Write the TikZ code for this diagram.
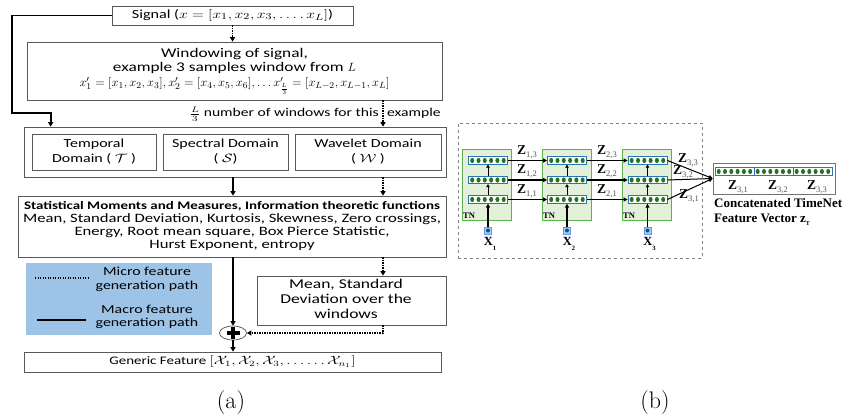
\documentclass[tikz,border=0pt]{standalone}
\usepackage[no-math]{fontspec}
\newfontfamily\calib{Carlito}
\newfontfamily\tnr{Liberation Serif}
\usepackage{graphicx}
\usetikzlibrary{arrows.meta,shapes.geometric,calc}
\definecolor{legblue}{RGB}{157,195,230}
\definecolor{tngreen}{RGB}{226,240,217}
\definecolor{tnborder}{RGB}{90,180,75}
\definecolor{barblue}{RGB}{46,117,182}
\definecolor{dotgreen}{RGB}{35,115,35}
\definecolor{inblue}{RGB}{150,210,240}
\definecolor{indot}{RGB}{31,78,121}
\definecolor{zsub}{RGB}{80,80,80}
\newcommand{\sx}[1]{\scalebox{1.3}[1]{#1}}
\newcommand{\um}[1]{\scalebox{0.8}[1]{#1}}
\newcommand{\fs}[2]{\fontsize{#1}{#2}\selectfont}
\newcommand{\ml}[3]{\sx{\fs{#1}{#2}\calib\begin{tabular}{@{}c@{}}#3\end{tabular}}}
\newcommand{\zlab}[1]{{\tnr\bfseries\fs{13.5}{13.5}Z}\raisebox{-3pt}{\tnr\fs{8.5}{8.5}\color{zsub}#1}}
\newcommand{\xlab}[1]{{\tnr\bfseries\fs{12.5}{12.5}X}\raisebox{-5pt}{\tnr\bfseries\fs{6.5}{6.5}#1}}
\tikzset{
  pics/dotbar/.style={code={
    \node[draw=barblue, fill=white, line width=0.8pt, minimum width=39pt, minimum height=7.5pt, inner sep=0pt] (-box) at (0,0) {};
    \foreach \i in {0,...,5} \fill[dotgreen] (-15.8+\i*6.3,0) ellipse (2pt and 2.6pt);
  }}
}
\begin{document}
\begin{tikzpicture}[x=1pt,y=-1pt,
  abox/.style={draw=black!65, line width=0.7pt, inner sep=0pt, align=center},
  arr/.style={-{Triangle[length=4.5pt,width=5pt]}, line width=1.5pt},
  darr/.style={-{Triangle[length=4.5pt,width=5pt]}, line width=1.7pt, dash pattern=on 1.4pt off 1.1pt},
  tnbox/.style={draw=tnborder, fill=tngreen, line width=1pt, minimum width=49pt, minimum height=70pt, inner sep=0pt},
  insq/.style={draw=inblue!70!blue, fill=inblue, line width=0.5pt, minimum width=7pt, minimum height=7pt, inner sep=0pt},
  tarr/.style={-{Triangle[length=3pt,width=3.5pt]}, line width=1pt},
  harr/.style={-{Triangle[length=4pt,width=4pt]}, line width=1.3pt},
  lab/.style={inner sep=0pt}
]
\useasboundingbox (0,0) rectangle (842,414);
% ---------------- (a) ----------------
\coordinate (cx) at (383,0);
\node[abox, minimum width=241pt, minimum height=19pt] (sig) at (232.5,15.5)
  {\ml{12.4}{13}{Signal ($x = [x_1, x_2, x_3, \ldots.\, x_L]$)}};
\node[abox, minimum width=415pt, minimum height=58pt] (win) at (234.5,71)
  {\ml{13.3}{14.5}{Windowing of signal,\\[-1pt]example 3 samples window from {\fs{12.5}{14.5}\um{$L$}}\\[1pt]{\fs{12.5}{14.5}\um{$x_1' = [x_1, x_2, x_3], x_2' = [x_4, x_5, x_6], \ldots x'_{\frac{L}{3}} = [x_{L-2}, x_{L-1}, x_L]$}}}};
\node[lab, anchor=base east] (lab1) at (379,117) {\sx{\fs{12}{14}\calib$\frac{L}{3}$ number of windows for this}};
\node[lab, anchor=base west] (lab2) at (387,117) {\sx{\fs{12}{14}\calib example}};
\node[abox, minimum width=422pt, minimum height=50pt] (outer) at (235,152) {};
\node[abox, minimum width=124pt, minimum height=36pt] (temp) at (94,152)
  {\ml{12.3}{15}{Temporal\\Domain ( $\mathcal{T}$ )}};
\node[abox, minimum width=125pt, minimum height=36pt] (spec) at (225.5,152)
  {\ml{12.3}{15}{Spectral Domain\\( $\mathcal{S}$)}};
\node[abox, minimum width=146pt, minimum height=36pt] (wav) at (368,152)
  {\ml{12.3}{15}{Wavelet Domain\\( $\mathcal{W}$ )}};
\node[abox, minimum width=428pt, minimum height=61pt] (stat) at (232,226.5)
  {\ml{12.8}{13}{{\fs{11.5}{13}\bfseries Statistical Moments and Measures, Information theoretic functions}\\Mean, Standard Deviation, Kurtosis, Skewness, Zero crossings,\\Energy, Root mean square, Box Pierce Statistic,\\Hurst Exponent, entropy}};
\node[fill=legblue, minimum width=186pt, minimum height=72pt, inner sep=0pt] (leg) at (119,299) {};
\node[lab] (legt1) at (147,280) {\ml{12.2}{14}{Micro feature\\generation path}};
\node[lab] (legt2) at (147,317.5) {\ml{12.2}{13.5}{Macro feature\\generation path}};
\coordinate (lm1) at (35,278); \coordinate (lm2) at (88,278);
\coordinate (lM1) at (37,320); \coordinate (lM2) at (86,320);
\draw[line width=1.7pt, dash pattern=on 1.4pt off 1.1pt] (lm1) -- (lm2);
\draw[line width=1.5pt] (lM1) -- (lM2);
\node[abox, minimum width=189pt, minimum height=49pt] (msd) at (351.5,300.5) {};
\node[lab] (msdt) at (346,300.5) {\ml{13.5}{15}{Mean, Standard\\Deviation over the\\windows}};
\node[draw=black!70, line width=0.7pt, ellipse, minimum width=27pt, minimum height=14pt, inner sep=0pt] (plus) at (233,333) {};
\draw[line width=3.8pt] ($(plus.center)+(-6.5,0)$) -- ($(plus.center)+(6.5,0)$);
\draw[line width=3.8pt] ($(plus.center)+(0,-6)$) -- ($(plus.center)+(0,6)$);
\node[abox, minimum width=417pt, minimum height=20pt] (gen) at (232.5,362)
  {\ml{11.5}{13}{Generic Feature $[\mathcal{X}_1, \mathcal{X}_2, \mathcal{X}_3, \ldots\ldots\mathcal{X}_{n_1}]$}};
\node[lab] (capa) at (231,403) {\fs{24}{26}(a)};
% connectors (a)
\draw[arr, line width=1.8pt] (sig.west) -| (12,113) -| ($(outer.north west)+(27,0)$);
\draw[darr] (sig.south) -- (sig.south |- win.north);
\draw[darr] (win.south -| cx) -- (outer.north -| cx);
\draw[arr] (outer.south -| plus) -- (stat.north -| plus);
\draw[darr] (outer.south -| cx) -- (stat.north -| cx);
\draw[arr] (stat.south -| plus) -- (plus.north);
\draw[darr] (stat.south -| cx) -- (msd.north -| cx);
\draw[darr] (msd.south -| cx) |- (plus.east);
\draw[arr] (plus.south) -- (gen.north -| plus);
% ---------------- (b) ----------------
\node[draw=gray, dashed, line width=0.7pt, minimum width=244pt, minimum height=135pt, inner sep=0pt] (frameb) at (580,190.5) {};
\node[tnbox] (tn1) at (486.5,185) {};
\node[tnbox] (tn2) at (566.5,185) {};
\node[tnbox] (tn3) at (647,185) {};
\foreach \n/\x in {1/488,2/567,3/647.5}{
  \pic (b\n3) at (\x,160.5) {dotbar};
  \pic (b\n2) at (\x,180) {dotbar};
  \pic (b\n1) at (\x,199.5) {dotbar};
  \draw[tarr] (b\n1-box.north) -- (b\n2-box.south);
  \draw[tarr] (b\n2-box.north) -- (b\n3-box.south);
  \node[insq] (in\n) at (\x,230.5) {};
  \fill[indot] (in\n.center) circle (2pt);
  \draw[harr] (in\n.north) -- (b\n1-box.south);
  \node[lab, anchor=base] (xl\n) at ($(\x,245)+(2,0)$) {\xlab{\n}};
}
\node[lab, anchor=base west] (tnl1) at (463,218) {\tnr\bfseries\fs{8.5}{8.5}TN};
\node[lab, anchor=base west] (tnl2) at (543,218) {\tnr\bfseries\fs{8.5}{8.5}TN};
\node[lab, anchor=base west] (tnl3) at (623,218) {\tnr\bfseries\fs{8.5}{8.5}TN};
\foreach \k in {1,2,3}{
  \draw[harr] (b1\k-box.east) -- (b2\k-box.west);
  \draw[harr] (b2\k-box.east) -- (b3\k-box.west);
}
\node[lab, anchor=base west] (z13) at (517,154) {\zlab{1,3}};
\node[lab, anchor=base west] (z12) at (517,173) {\zlab{1,2}};
\node[lab, anchor=base west] (z11) at (517,193) {\zlab{1,1}};
\node[lab, anchor=base west] (z23) at (597,154) {\zlab{2,3}};
\node[lab, anchor=base west] (z22) at (597,173) {\zlab{2,2}};
\node[lab, anchor=base west] (z21) at (597,193) {\zlab{2,1}};
\node[draw=gray!90!black, line width=0.6pt, minimum width=122pt, minimum height=31pt, inner sep=0pt] (concat) at (774,178.5) {};
\pic (c1) at (734.5,171.5) {dotbar};
\pic (c2) at (773.5,171.5) {dotbar};
\pic (c3) at (812.5,171.5) {dotbar};
\draw[harr, line width=1pt] (b33-box.east) -- (concat.west);
\draw[harr, line width=1pt] (b32-box.east) -- (concat.west);
\draw[harr, line width=1pt] (b31-box.east) -- (concat.west);
\node[lab, anchor=base west] (z33) at (678,162) {\zlab{3,3}};
\node[lab, anchor=base west] (z32) at (673,175) {\zlab{3,2}};
\node[lab, anchor=base west] (z31) at (679,198) {\zlab{3,1}};
\node[lab, anchor=base west] (cz1) at (728,189) {\zlab{3,1}};
\node[lab, anchor=base west] (cz2) at (768,189) {\zlab{3,2}};
\node[lab, anchor=base west] (cz3) at (807,189) {\zlab{3,3}};
\node[lab, anchor=base west] (ct1) at (714,207) {\tnr\bfseries\fs{13}{15}Concatenated TimeNet};
\node[lab, anchor=base west] (ct2) at (714,222) {\tnr\bfseries\fs{13}{15}Feature Vector z\raisebox{-3pt}{\fs{6}{6}T}};
\node[lab] (capb) at (655,403) {\fs{24}{26}(b)};
\end{tikzpicture}
\end{document}
